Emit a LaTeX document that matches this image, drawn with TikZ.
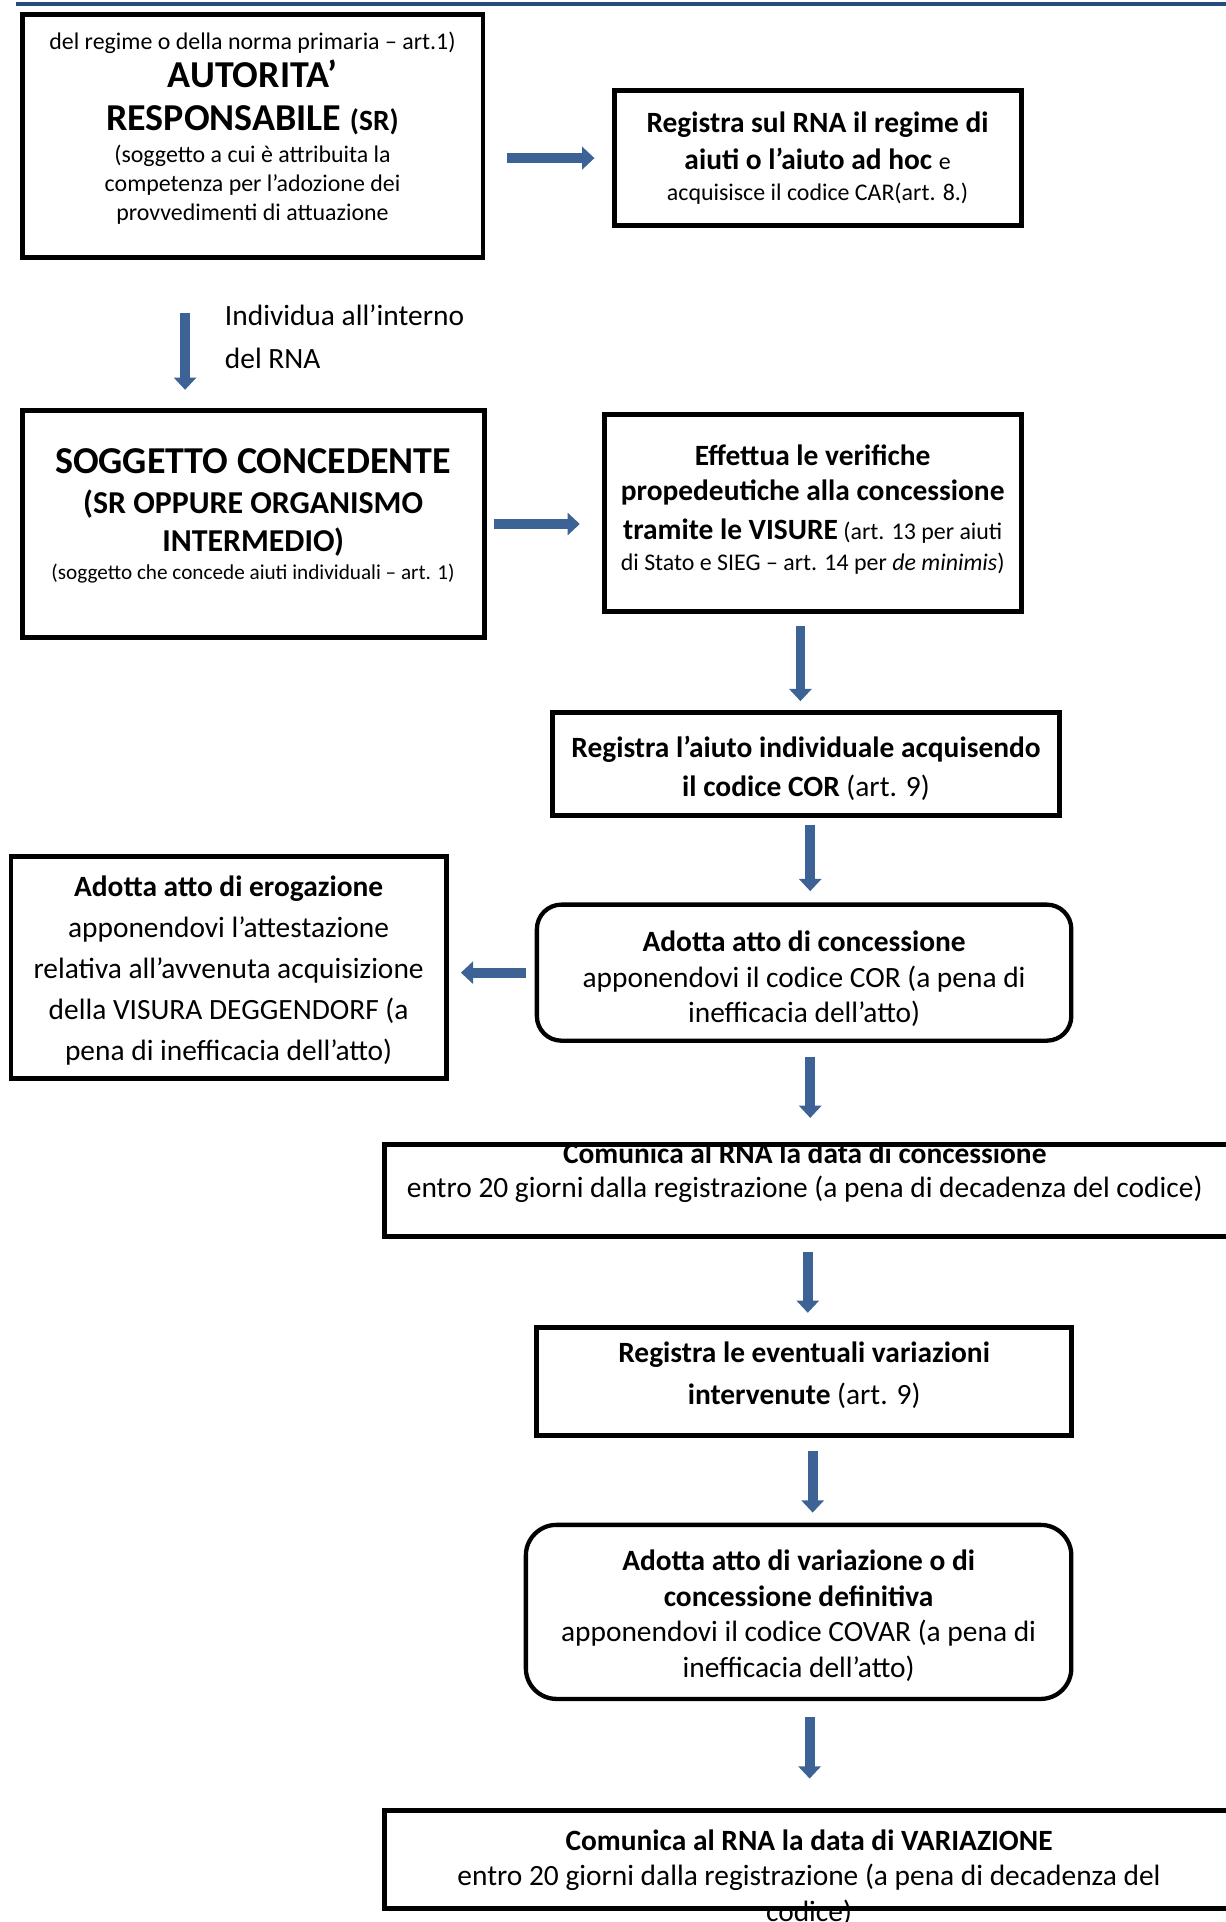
\documentclass[tikz,border=0pt]{standalone}
\usepackage{fontspec}
\setmainfont{Carlito}
\usetikzlibrary{arrows.meta}
\usetikzlibrary{positioning}

\definecolor{flowblue}{RGB}{60,98,150}
\definecolor{ruleblue}{RGB}{38,74,125}

\newcommand\fsize[2]{\fontsize{#1}{#2}\selectfont}
% extra depth below the last line, lifts the text inside its box
\newcommand\lowpad[1]{\rule[-#1]{0pt}{#1}}
% extra height above the first line, drops the text inside its box
\newcommand\highpad[1]{\rule{0pt}{#1}}

\tikzset{
  box/.style={draw=black, line width=4pt, fill=white, outer sep=0pt,
    inner sep=0pt, align=center},
  roundbox/.style={box, line width=3.5pt, rounded corners=20pt},
  flow/.style={draw=flowblue, line width=8pt,
    -{Triangle[width=18pt,length=10pt]}},
}

\begin{document}
\begin{tikzpicture}[x=1pt,y=-1pt]
  \useasboundingbox (0,0) rectangle (1000,1568);
  %
  \draw[ruleblue, line width=3.3pt] (13,3) -- (1000,3);

  % left column
  \node[box, minimum width=376pt, minimum height=198pt, font=\fsize{19.5}{24}] (autorita) at (206,111) {%
    del regime o della norma primaria – art.1)\\[4.4pt]
    \fsize{31}{24}\bfseries AUTORITA’\\[11pt]
    \fsize{31}{24}\bfseries RESPONSABILE {\fsize{24}{24}(SR)}\\[2pt]
    (soggetto a cui è attribuita la\\
    competenza per l’adozione dei\\[-1pt]
    provvedimenti di attuazione\lowpad{16.6pt}};

  \node[box, minimum width=377pt, minimum height=185pt, font=\fsize{17.3}{31}] (concedente) at (206.5,427.5) {%
    \fsize{31}{31}\bfseries SOGGETTO CONCEDENTE\\[1.5pt]
    \fsize{26}{31}\bfseries (SR OPPURE ORGANISMO\\
    \fsize{26}{31}\bfseries INTERMEDIO)\\[-8pt]
    (soggetto che concede aiuti individuali – art. 1)\lowpad{16pt}};

  \node[box, minimum width=355pt, minimum height=181pt, font=\fsize{24}{33.5}] (erogazione) at (186.5,789.5) {%
    \highpad{21pt}\bfseries Adotta atto di erogazione\\
    apponendovi l’attestazione\\
    relativa all’avvenuta acquisizione\\
    della VISURA DEGGENDORF (a\\
    pena di inefficacia dell’atto)};

  \node[anchor=west, align=left, font=\fsize{24}{35}] (individua) at (180,275) {%
    Individua all’interno\\ del RNA};

  % right column
  \node[box, minimum width=332pt, minimum height=110pt, font=\fsize{24}{30}] (registracar) at (667,129) {%
    \bfseries Registra sul RNA il regime di\\
    \bfseries aiuti o l’aiuto ad hoc {\mdseries\fsize{19.5}{24}e}\\[-5pt]
    \fsize{19.5}{24}acquisisce il codice CAR(art. 8.)};

  \node[box, minimum width=340pt, minimum height=161pt, font=\fsize{19.5}{29}] (visure) at (663,418.5) {%
    \fsize{24}{29}\bfseries Effettua le verifiche\\
    \fsize{24}{29}\bfseries propedeutiche alla concessione\\[3pt]
    {\fsize{24}{29}\bfseries tramite le VISURE} (art. 13 per aiuti\\[-4pt]
    di Stato e SIEG – art. 14 per \textit{de minimis})\lowpad{9pt}};

  \node[box, minimum width=413pt, minimum height=84pt, font=\fsize{24}{32}] (registracor) at (657.5,623) {%
    \highpad{25pt}\bfseries Registra l’aiuto individuale acquisendo\\
    {\bfseries il codice COR} (art. 9)};

  \node[roundbox, minimum width=436pt, minimum height=111pt, font=\fsize{24}{29}] (attoconc) at (656,793.5) {%
    \highpad{27pt}\bfseries Adotta atto di concessione\\
    apponendovi il codice COR (a pena di\\
    inefficacia dell’atto)};

  \node[box, minimum width=690pt, minimum height=75pt] (comunicaconc) at (659,971.5) {};
  \begin{scope}
    \clip (314,934) rectangle (1004,1009);
    \node[align=center, font=\fsize{24}{28}] (comunicaconctext) at (656.5,956.5) {%
      \bfseries Comunica al RNA la data di concessione\\
      entro 20 giorni dalla registrazione (a pena di decadenza del codice)};
  \end{scope}

  \node[box, minimum width=436pt, minimum height=88pt, font=\fsize{24}{34}] (variazioni) at (656,1127) {%
    \bfseries Registra le eventuali variazioni\\
    {\bfseries intervenute} (art. 9)\lowpad{14pt}};

  \node[roundbox, minimum width=445pt, minimum height=142pt, rounded corners=25pt, font=\fsize{24}{29}] (attovar) at (651.5,1315) {%
    \highpad{23pt}\bfseries Adotta atto di variazione o di\\
    \bfseries concessione definitiva\\
    apponendovi il codice COVAR (a pena di\\
    inefficacia dell’atto)};

  \node[box, minimum width=690pt, minimum height=80pt] (comunicavar) at (659,1517) {};
  \node[align=center, font=\fsize{24}{29}] (comunicavartext) at (660,1531.5) {%
    \bfseries Comunica al RNA la data di VARIAZIONE\\
    entro 20 giorni dalla registrazione (a pena di decadenza del\\
    codice)};
  \draw[line width=4pt] (comunicavar.north west) rectangle (comunicavar.south east);
  \draw[line width=4pt] (comunicaconc.north west) rectangle (comunicaconc.south east);

  % arrows
  \draw[flow, shorten <=20pt, shorten >=16pt] (autorita.east |- registracar.west) -- (registracar.west);
  \draw[flow, shorten <=45pt, shorten >=17pt] ([xshift=-55pt]autorita.south) -- ([xshift=-55pt]autorita.south |- concedente.north);
  \draw[flow, shorten <=8pt, shorten >=20pt] (concedente.east) -- (concedente.east -| visure.west);
  \draw[flow, shorten <=12pt, shorten >=9pt] ([xshift=-10pt]visure.south) -- ([xshift=-10pt]visure.south |- registracor.north);
  \draw[flow, shorten <=8pt, shorten >=11pt] ([xshift=3.5pt]registracor.south) -- ([xshift=3.5pt]registracor.south |- attoconc.north);
  \draw[flow, shorten <=9pt, shorten >=12pt] (attoconc.west) -- (attoconc.west -| erogazione.east);
  \draw[flow, shorten <=13pt, shorten >=22pt] ([xshift=5pt]attoconc.south) -- ([xshift=5pt]attoconc.south |- comunicaconc.north);
  \draw[flow, shorten <=12pt, shorten >=12pt] (comunicaconc.south) -- (comunicaconc.south |- variazioni.north);
  \draw[flow, shorten <=13pt, shorten >=10pt] ([xshift=7pt]variazioni.south) -- ([xshift=7pt]variazioni.south |- attovar.north);
  \draw[flow, shorten <=15pt, shorten >=26pt] ([xshift=9pt]attovar.south) -- ([xshift=9pt]attovar.south |- comunicavar.north);

\end{tikzpicture}
\end{document}
